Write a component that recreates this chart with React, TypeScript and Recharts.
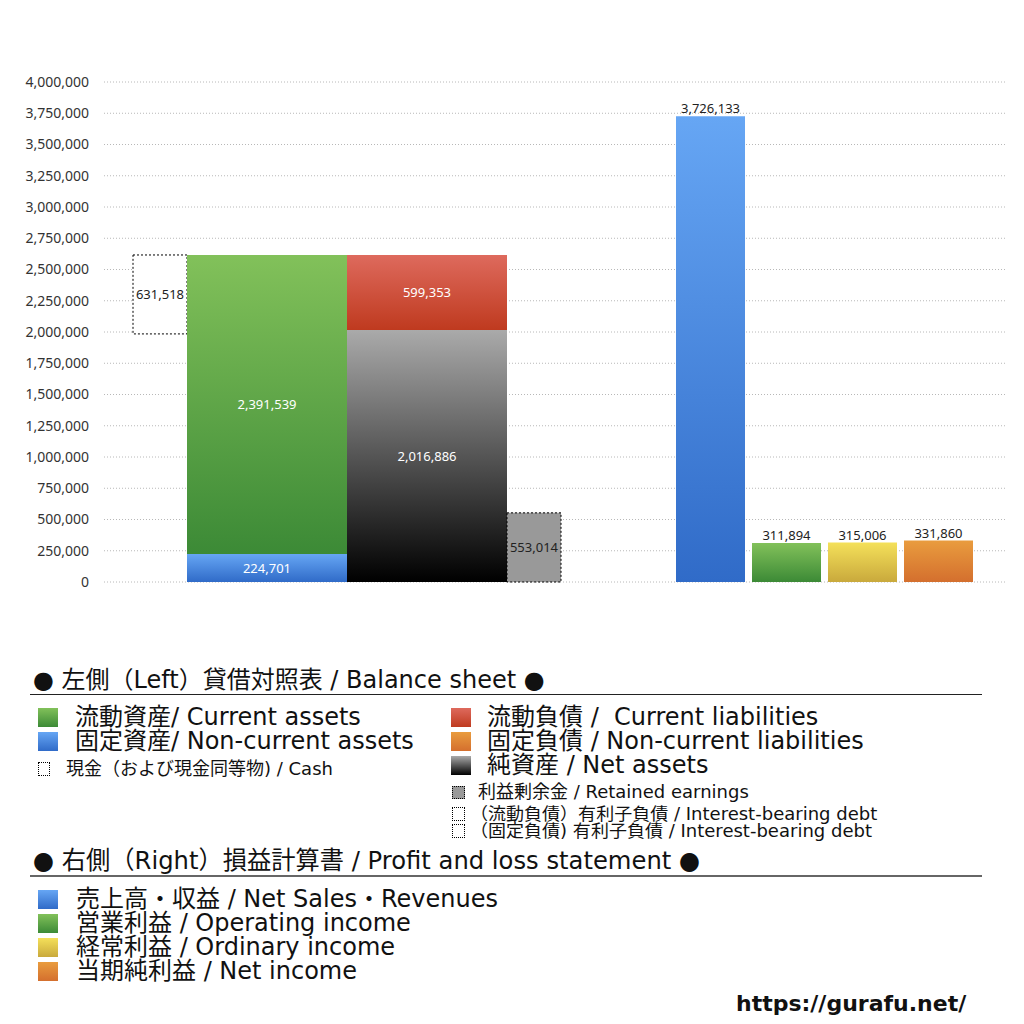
import { Bar, BarChart, CartesianGrid, Cell, LabelList, XAxis, YAxis } from "recharts";

const bsCategories = ["貸借対照表"];
const nonCurrentAssets = [224701];
const currentAssets = [2391539];
const cashValues = [631518];
const netAssets = [2016886];
const currentLiabilities = [599353];
const retainedEarnings = [553014];

const plCategories = ["売上高・収益", "営業利益", "経常利益", "当期純利益"];
const plValues = [3726133, 311894, 315006, 331860];

const yTicks = [
  0, 250000, 500000, 750000, 1000000, 1250000, 1500000, 1750000, 2000000,
  2250000, 2500000, 2750000, 3000000, 3250000, 3500000, 3750000, 4000000,
];

const bsData = bsCategories.map((name, i) => ({
  name,
  nonCurrent: nonCurrentAssets[i],
  current: currentAssets[i],
  cashBase: nonCurrentAssets[i] + currentAssets[i] - cashValues[i],
  cash: cashValues[i],
  netAssets: netAssets[i],
  currentLiab: currentLiabilities[i],
  retained: retainedEarnings[i],
}));

const plData = plCategories.map((name, i) => ({ name, value: plValues[i] }));

const gradients: Record<string, [string, string]> = {
  green: ["#82c15a", "#3c8a36"],
  blue: ["#66a6f4", "#306bc8"],
  red: ["#de6a5d", "#bf3a1f"],
  gray: ["#aaaaaa", "#000000"],
  yellow: ["#f4e05a", "#c9a93c"],
  orange: ["#e99c3e", "#d46f2e"],
};
const plColors = ["blue", "green", "yellow", "orange"];

const fmt = (v: any) => Number(v).toLocaleString("en-US");
const FONT = "'Noto Sans', 'Noto Sans CJK JP', sans-serif";
const LEGEND_FONT = "'DejaVu Sans', 'Noto Sans CJK JP', sans-serif";

function Defs() {
  return (
    <defs>
      {Object.entries(gradients).map(([k, [a, b]]) => (
        <linearGradient key={k} id={`g-${k}`} x1="0" y1="0" x2="0" y2="1">
          <stop offset="0%" stopColor={a} />
          <stop offset="100%" stopColor={b} />
        </linearGradient>
      ))}
    </defs>
  );
}

const cssGrad = (k: string) =>
  `linear-gradient(to bottom, ${gradients[k][0]}, ${gradients[k][1]})`;

const whiteLabel = { fill: "#fff", fontSize: 13, fontFamily: FONT };
const darkLabel = { fill: "#222", fontSize: 13, fontFamily: FONT };

function Swatch({ x, y, w = 20, h = 19, bg, dotted = false }: any) {
  return (
    <div
      style={{
        position: "absolute",
        left: x,
        top: y - h / 2,
        width: w,
        height: h,
        background: bg,
        border: dotted ? "1px dotted #000" : "none",
        boxSizing: "border-box",
      }}
    />
  );
}

function Text({ x, y, size, children, scale = 1, bold = false }: any) {
  return (
    <div
      style={{
        position: "absolute",
        left: x,
        top: y - size / 2,
        lineHeight: `${size}px`,
        height: size,
        fontSize: size,
        fontFamily: LEGEND_FONT,
        fontWeight: bold ? 700 : 400,
        color: "#111",
        whiteSpace: "pre",
        transform: `scaleX(${scale})`,
        transformOrigin: "left center",
      }}
    >
      {children}
    </div>
  );
}

export default function App() {
  return (
    <div
      style={{
        position: "absolute",
        left: 0,
        top: 0,
        width: 1024,
        height: 1024,
        background: "#fff",
        overflow: "hidden",
      }}
    >
      <div style={{ position: "absolute", left: 0, top: 0 }}>
        <BarChart
          width={1024}
          height={620}
          data={bsData}
          barGap={0}
          margin={{ top: 82, right: 17, left: 0, bottom: 38 }}
        >
          <Defs />
          <CartesianGrid
            vertical={false}
            stroke="#b8b8b8"
            strokeDasharray="1 2"
          />
          <XAxis dataKey="name" hide padding={{ left: 0, right: 417 }} />
          <YAxis
            width={104}
            domain={[0, 4000000]}
            ticks={yTicks}
            interval={0}
            axisLine={false}
            tickLine={false}
            tickMargin={9}
            tickFormatter={fmt}
            tick={{ fill: "#333", fontSize: 14, fontFamily: FONT }}
          />
          <Bar dataKey="cashBase" stackId="c" barSize={54} fill="transparent" isAnimationActive={false} />
          <Bar
            dataKey="cash"
            stackId="c"
            barSize={54}
            fill="#fff"
            stroke="#000"
            strokeDasharray="2 2"
            isAnimationActive={false}
          >
            <LabelList dataKey="cash" position="center" formatter={fmt} style={darkLabel} />
          </Bar>
          <Bar dataKey="nonCurrent" stackId="a" barSize={160} fill="url(#g-blue)" isAnimationActive={false}>
            <LabelList dataKey="nonCurrent" position="center" formatter={fmt} style={whiteLabel} />
          </Bar>
          <Bar dataKey="current" stackId="a" barSize={160} fill="url(#g-green)" isAnimationActive={false}>
            <LabelList dataKey="current" position="center" formatter={fmt} style={whiteLabel} />
          </Bar>
          <Bar dataKey="netAssets" stackId="l" barSize={160} fill="url(#g-gray)" isAnimationActive={false}>
            <LabelList dataKey="netAssets" position="center" formatter={fmt} style={whiteLabel} />
          </Bar>
          <Bar dataKey="currentLiab" stackId="l" barSize={160} fill="url(#g-red)" isAnimationActive={false}>
            <LabelList dataKey="currentLiab" position="center" formatter={fmt} style={whiteLabel} />
          </Bar>
          <Bar
            dataKey="retained"
            stackId="r"
            barSize={54}
            fill="#999"
            stroke="#000"
            strokeDasharray="2 2"
            isAnimationActive={false}
          >
            <LabelList dataKey="retained" position="center" formatter={fmt} style={darkLabel} />
          </Bar>
        </BarChart>
      </div>

      <div style={{ position: "absolute", left: 0, top: 0 }}>
        <BarChart
          width={1024}
          height={620}
          data={plData}
          margin={{ top: 82, right: 48, left: 672, bottom: 38 }}
        >
          <Defs />
          <XAxis dataKey="name" hide />
          <YAxis hide domain={[0, 4000000]} ticks={yTicks} />
          <Bar dataKey="value" barSize={69} isAnimationActive={false}>
            {plData.map((_, i) => (
              <Cell key={`pl-${i}`} fill={`url(#g-${plColors[i]})`} />
            ))}
            <LabelList dataKey="value" position="top" offset={3} formatter={fmt} style={darkLabel} />
          </Bar>
        </BarChart>
      </div>

      {/* legend */}
      <Text x={33} y={680} size={24}>● 左側（Left）貸借対照表 / Balance sheet ●</Text>
      <div style={{ position: "absolute", left: 30, top: 694, width: 952, height: 1, background: "#222" }} />

      <Swatch x={38} y={717} bg={cssGrad("green")} />
      <Text x={75} y={717} size={24}>流動資産/ Current assets</Text>
      <Swatch x={38} y={741} bg={cssGrad("blue")} />
      <Text x={75} y={741} size={24}>固定資産/ Non-current assets</Text>
      <Swatch x={38} y={769} w={12} h={14} bg="#fff" dotted />
      <Text x={66} y={769} size={18}>現金（および現金同等物) / Cash</Text>

      <Swatch x={451} y={717} bg={cssGrad("red")} />
      <Text x={487} y={717} size={24}>流動負債 /  Current liabilities</Text>
      <Swatch x={451} y={741} bg={cssGrad("orange")} />
      <Text x={487} y={741} size={24}>固定負債 / Non-current liabilities</Text>
      <Swatch x={451} y={765} bg={cssGrad("gray")} />
      <Text x={487} y={765} size={24}>純資産 / Net assets</Text>
      <Swatch x={452} y={792} w={13} h={13} bg="#999" dotted />
      <Text x={478} y={792} size={18}>利益剰余金 / Retained earnings</Text>
      <Swatch x={452} y={814} w={13} h={14} bg="#fff" dotted />
      <Text x={470} y={814} size={17} scale={1.06}>（流動負債）有利子負債 / Interest-bearing debt</Text>
      <Swatch x={452} y={831} w={13} h={14} bg="#fff" dotted />
      <Text x={470} y={831} size={17} scale={1.06}>（固定負債) 有利子負債 / Interest-bearing debt</Text>

      <Text x={33} y={860} size={25} scale={0.97}>● 右側（Right）損益計算書 / Profit and loss statement ●</Text>
      <div style={{ position: "absolute", left: 30, top: 875, width: 952, height: 2, background: "#666" }} />

      <Swatch x={38} y={899} bg={cssGrad("blue")} />
      <Text x={76} y={899} size={24}>売上高・収益 / Net Sales・Revenues</Text>
      <Swatch x={38} y={923} bg={cssGrad("green")} />
      <Text x={76} y={923} size={24}>営業利益 / Operating income</Text>
      <Swatch x={38} y={947} bg={cssGrad("yellow")} />
      <Text x={76} y={947} size={24}>経常利益 / Ordinary income</Text>
      <Swatch x={38} y={971} bg={cssGrad("orange")} />
      <Text x={76} y={971} size={24}>当期純利益 / Net income</Text>

      <Text x={736} y={1004} size={22} bold>https://gurafu.net/</Text>
    </div>
  );
}
